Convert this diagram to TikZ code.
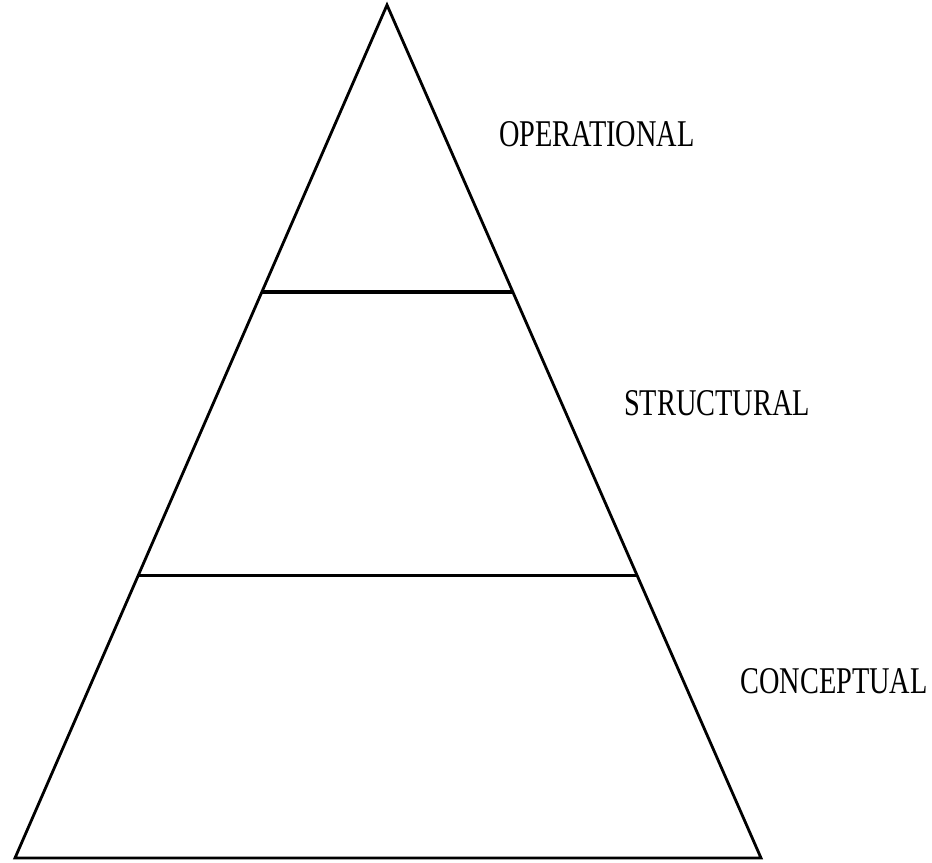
\documentclass[tikz,border=0pt]{standalone}
\usepackage{fontspec}
\setmainfont{Liberation Serif}
\usetikzlibrary{calc}

\begin{document}
\begin{tikzpicture}[x=0.02cm, y=-0.02cm]
            \useasboundingbox (0,0) rectangle (932,862);
            \tikzset{level/.style={font=\fontsize{21.5}{24}\selectfont, xscale=0.75, inner sep=0pt}}
            \coordinate (apex) at (387,5);
            \coordinate (bl) at (15,858);
            \coordinate (br) at (761,858);
            \draw[line width=1.6pt, line join=miter] (apex) -- (br) -- (bl) -- cycle;
            \draw[line width=2pt] ($(apex)!0.3365!(bl)$) -- ($(apex)!0.3365!(br)$);
            \draw[line width=2pt] ($(apex)!0.669!(bl)$) -- ($(apex)!0.669!(br)$);
            \node[level] (oper) at (597,134) {OPERATIONAL};
            \node[level] (struct) at (717,403) {STRUCTURAL};
            \node[level] (concept) at (834,681) {CONCEPTUAL};
          \end{tikzpicture}
\end{document}
